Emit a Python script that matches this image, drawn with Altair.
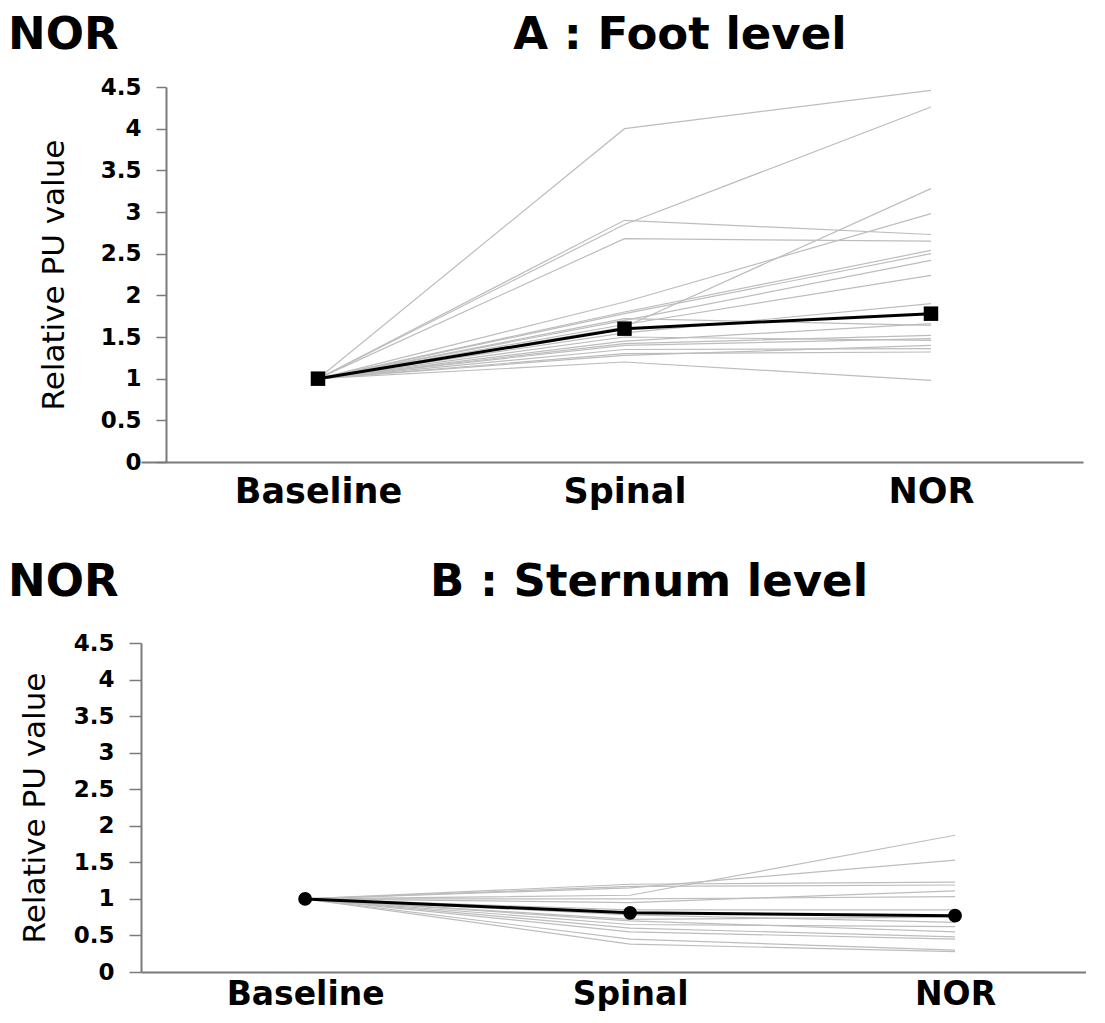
import json
import altair as alt
import pandas as pd

# ---------------- data ----------------
categories = ["Baseline", "Spinal", "NOR"]
group_label = "NOR"
panel_titles = ["A : Foot level", "B : Sternum level"]
y_title = "Relative PU value"
y_ticks = [0, 0.5, 1, 1.5, 2, 2.5, 3, 3.5, 4, 4.5]

# Panel A (foot level): individual subjects
a_baseline = [1.0, 1.0, 1.0, 1.0, 1.0, 1.0, 1.0, 1.0, 1.0, 1.0,
              1.0, 1.0, 1.0, 1.0, 1.0, 1.0, 1.0, 1.0, 1.0, 1.0]
a_spinal = [4.00, 2.85, 2.90, 2.68, 1.62, 1.92, 1.80, 1.78, 1.70, 1.65,
            1.55, 1.72, 1.45, 1.40, 1.50, 1.35, 1.30, 1.20, 1.28, 1.42]
a_nor = [4.46, 4.26, 2.73, 2.65, 3.28, 2.98, 2.54, 2.50, 2.42, 2.24,
         1.90, 1.64, 1.66, 1.48, 1.46, 1.36, 1.32, 0.98, 1.40, 1.52]
a_mean = [1.00, 1.60, 1.78]

# Panel B (sternum level): individual subjects
b_baseline = [1.0, 1.0, 1.0, 1.0, 1.0, 1.0, 1.0, 1.0,
              1.0, 1.0, 1.0, 1.0, 1.0, 1.0, 1.0]
b_spinal = [1.05, 1.15, 1.20, 1.17, 0.95, 1.00, 0.85, 0.72,
            0.78, 0.65, 0.70, 0.60, 0.45, 0.38, 0.55]
b_nor = [1.87, 1.53, 1.23, 1.19, 1.11, 1.03, 0.85, 0.75,
         0.68, 0.62, 0.55, 0.48, 0.30, 0.28, 0.45]
b_mean = [1.00, 0.81, 0.77]


def long_table(base, spinal, nor):
    rows = []
    for i, vals in enumerate(zip(base, spinal, nor)):
        for k, v in enumerate(vals):
            rows.append({"subject": i, "pos": k, "value": v})
    return pd.DataFrame(rows)


def mean_table(vals):
    return pd.DataFrame({"pos": list(range(len(vals))), "value": vals})


FONT = "DejaVu Sans"
label_expr = json.dumps(categories) + "[datum.value]"


def panel(base, spinal, nor, mean, title, shape, msize, x_domain, width, height,
          y_offset, tick_size, y_label_pad, y_title_pad, x_label_pad, x_label_size,
          nor_dx, title_dx, title_dy):
    x_enc = alt.X(
        "pos:Q",
        scale=alt.Scale(domain=x_domain, nice=False, zero=False),
        axis=alt.Axis(
            values=[0, 1, 2], labelExpr=label_expr, ticks=False, grid=False,
            title=None, domainColor="#7a7a7a", domainWidth=2,
            labelFont=FONT, labelFontWeight="bold", labelFontSize=x_label_size,
            labelColor="black", labelPadding=x_label_pad,
        ),
    )
    y_enc = alt.Y(
        "value:Q",
        scale=alt.Scale(domain=[0, 4.5], nice=False),
        axis=alt.Axis(
            values=y_ticks, tickCount=len(y_ticks), format="~g", grid=False,
            offset=y_offset,
            labelOverlap=False, labelBound=False, labelFlush=False,
            domainColor="#7a7a7a", domainWidth=2, tickColor="#7a7a7a",
            tickWidth=1.5, tickSize=tick_size, labelFont=FONT,
            labelFontWeight="bold", labelFontSize=23, labelColor="black",
            labelPadding=y_label_pad,
            title=y_title, titleFont=FONT, titleFontWeight="normal",
            titleFontSize=31, titleColor="black", titlePadding=y_title_pad,
        ),
    )
    subjects = alt.Chart(long_table(base, spinal, nor)).mark_line(
        color="#bdbdbd", strokeWidth=1.2
    ).encode(x=x_enc, y=y_enc, detail="subject:N")
    mean_df = mean_table(mean)
    mean_line = alt.Chart(mean_df).mark_line(color="black", strokeWidth=3).encode(
        x="pos:Q", y="value:Q"
    )
    mean_pts = alt.Chart(mean_df).mark_point(
        shape=shape, filled=True, size=msize, color="black", opacity=1
    ).encode(x="pos:Q", y="value:Q")
    nor_txt = alt.Chart(pd.DataFrame({"t": [group_label]})).mark_text(
        font=FONT, fontWeight="bold", fontSize=45, align="left",
        baseline="alphabetic", color="black"
    ).encode(text="t:N", x=alt.value(nor_dx), y=alt.value(title_dy))
    ttl_txt = alt.Chart(pd.DataFrame({"t": [title]})).mark_text(
        font=FONT, fontWeight="bold", fontSize=45, align="center",
        baseline="alphabetic", color="black"
    ).encode(text="t:N", x=alt.value(title_dx), y=alt.value(title_dy))
    return alt.layer(subjects, mean_line, mean_pts, nor_txt, ttl_txt).properties(
        width=width, height=height
    )


chart_a = panel(a_baseline, a_spinal, a_nor, a_mean, panel_titles[0], "square", 210,
                [-0.5775, 2.496], 942, 375, -25, 10, 15, 30, 12, 35, -133, 539, -38)
chart_b = panel(b_baseline, b_spinal, b_nor, b_mean, panel_titles[1], "circle", 190,
                [-0.505, 2.403], 945, 329, 0, 12, 15, 22, 6, 33, -133, 508, -47)

chart = alt.vconcat(chart_a, chart_b, spacing=51).properties(
    padding={"top": 5, "left": 0, "right": 0, "bottom": 0}, background="white"
).configure_view(stroke=None)

chart.save("out.html", embed_options={"renderer": "svg", "actions": False})
